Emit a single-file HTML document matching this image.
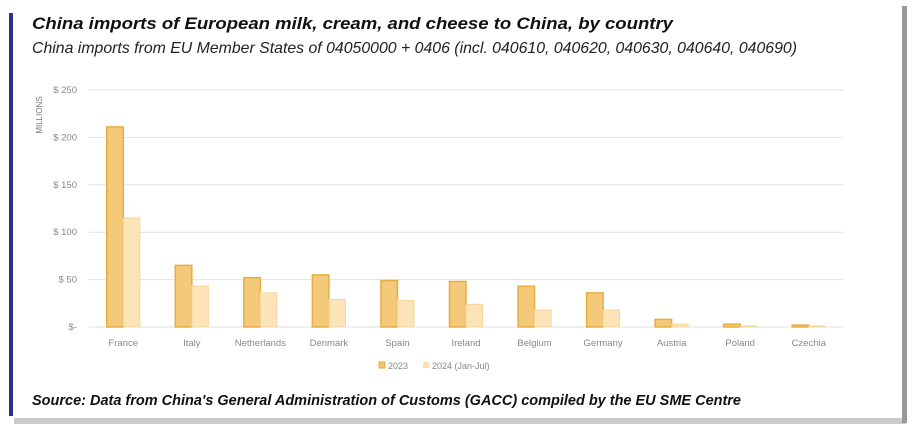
<!DOCTYPE html>
<html><head><meta charset="utf-8">
<style>
body{margin:0;background:#fff;width:912px;height:427px;overflow:hidden;font-family:"Liberation Sans",sans-serif}
</style></head><body>
<svg id="chart" width="912" height="427" xmlns="http://www.w3.org/2000/svg">
  <rect x="14" y="418" width="892" height="6" fill="#ccc"/>
  <rect x="902" y="6" width="5" height="417" fill="#999"/>
  <rect x="9" y="0" width="893" height="416" fill="#fff"/>
  <rect x="9" y="13" width="4" height="403" fill="#2b3190"/>
  <text x="32" y="29" font-size="17" font-weight="bold" font-style="italic" fill="#111" textLength="641" lengthAdjust="spacingAndGlyphs">China imports of European milk, cream, and cheese to China, by country</text>
  <text x="32" y="53" font-size="16" font-style="italic" fill="#222" textLength="765" lengthAdjust="spacingAndGlyphs">China imports from EU Member States of 04050000 + 0406 (incl. 040610, 040620, 040630, 040640, 040690)</text>
  <text x="32" y="405" font-size="14.5" font-weight="bold" font-style="italic" fill="#111" textLength="709" lengthAdjust="spacingAndGlyphs">Source: Data from China's General Administration of Customs (GACC) compiled by the EU SME Centre</text>
  <text transform="translate(42,115) rotate(-90)" text-anchor="middle" font-size="8" fill="#777">MILLIONS</text>
  <g id="grid"></g><g id="bars"></g><g id="labels"></g>
  <g>
    <rect x="379" y="362" width="6" height="6" fill="#f3c26a" stroke="#e6aa3a"/>
    <text x="388" y="369" font-size="9" fill="#888">2023</text>
    <rect x="423" y="362" width="6" height="6" fill="#fbe0b0"/>
    <text x="432" y="369" font-size="9" fill="#888">2024 (Jan-Jul)</text>
  </g>
</svg>
<script>
const categories=["France","Italy","Netherlands","Denmark","Spain","Ireland","Belgium","Germany","Austria","Poland","Czechia"];
const values2023=[211,65,52,55,49,48,43,36,8,3,2];
const values2024=[115,43,36,29,28,24,18,18,3,1,1];
const yTicks=[0,50,100,150,200,250];
const yTickLabels=["$-","$ 50","$ 100","$ 150","$ 200","$ 250"];
const NS="http://www.w3.org/2000/svg";
const x0=89,x1=843,y0=327,y1=90,yMax=250;
const y=v=>y0-(v/yMax)*(y0-y1);
const bw=(x1-x0)/categories.length;
const xc=i=>x0+bw*(i+0.5);
function mk(t,a,p){const e=document.createElementNS(NS,t);for(const k in a)e.setAttribute(k,a[k]);p.appendChild(e);return e;}
const grid=document.getElementById('grid'),bars=document.getElementById('bars'),labels=document.getElementById('labels');
yTicks.forEach((t,i)=>{
  const l=mk('line',{x1:x0,x2:x1,y1:y(t),y2:y(t),stroke:'#e2e2e2','stroke-width':1},grid);
  
  
  const tx=mk('text',{x:77,y:y(t)+3,'text-anchor':'end','font-size':9.5,fill:'#888'},labels);
  tx.textContent=yTickLabels[i];
  
  
});
categories.forEach((c,i)=>{
  const w=16.5;
  const r1=mk('rect',{x:xc(i)-w,y:y(values2023[i]),width:w,height:y0-y(values2023[i]),fill:'#f5c97a',stroke:'#e8ad3f','stroke-width':1.5},bars);
  
  
  const r2=mk('rect',{x:xc(i),y:y(values2024[i]),width:w,height:y0-y(values2024[i]),fill:'#fce3b8',stroke:'#f6d59a','stroke-width':1},bars);
  
  
  const t=mk('text',{x:xc(i),y:346,'text-anchor':'middle','font-size':9.5,fill:'#888'},labels);
  t.textContent=c;
  
  
});
</script>
</body></html>
